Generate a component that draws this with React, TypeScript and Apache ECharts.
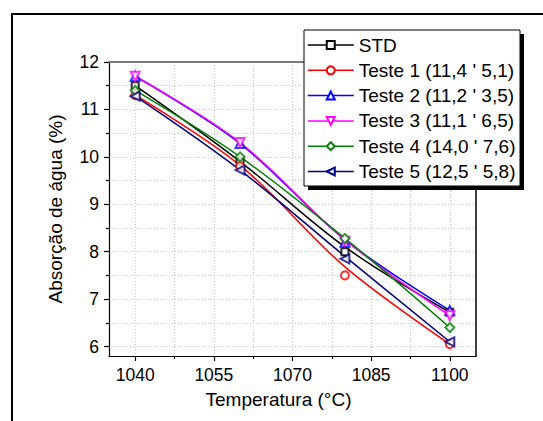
import React, { useEffect, useRef } from "react";
import * as echarts from "echarts";

const FONT = "'Liberation Sans', Arial, Helvetica, sans-serif";

const temps = [1040, 1060, 1080, 1100];
const xMajorTicks = [1040, 1055, 1070, 1085, 1100];
const xMinorTicks = [1047.5, 1062.5, 1077.5, 1092.5];
const yMajorTicks = [6, 7, 8, 9, 10, 11, 12];
const yMinorTicks = [6.5, 7.5, 8.5, 9.5, 10.5, 11.5];

const seriesNames = [
  "STD",
  "Teste 1 (11,4 ' 5,1)",
  "Teste 2 (11,2 ' 3,5)",
  "Teste 3 (11,1 ' 6,5)",
  "Teste 4 (14,0 ' 7,6)",
  "Teste 5 (12,5 ' 5,8)",
];

// measured points (markers)
const stdPoints = [11.5, 9.9, 8.0, 6.72];
const t1Points = [11.3, 9.8, 7.5, 6.05];
const t2Points = [11.7, 10.28, 8.2, 6.76];
const t3Points = [11.7, 10.3, 8.22, 6.65];
const t4Points = [11.4, 10.0, 8.28, 6.4];
const t5Points = [11.28, 9.72, 7.85, 6.1];

// fitted curves as drawn (read at the same temperatures)
const stdCurve = [11.5, 9.9, 8.1, 6.72];
const t1Curve = [11.3, 9.82, 7.68, 6.05];
const t2Curve = [11.7, 10.28, 8.25, 6.76];
const t3Curve = [11.7, 10.3, 8.25, 6.65];
const t4Curve = [11.4, 10.0, 8.28, 6.4];
const t5Curve = [11.28, 9.72, 7.9, 6.1];

const pointsList = [stdPoints, t1Points, t2Points, t3Points, t4Points, t5Points];
const curveList = [stdCurve, t1Curve, t2Curve, t3Curve, t4Curve, t5Curve];

const colors = ["#000000", "#ff0000", "#0000ff", "#ff00ff", "#008000", "#000080"];
const symbols = ["emptyRect", "emptyCircle", "emptyTriangle", "emptyTriangle", "emptyDiamond", "emptyTriangle"];
const rotations = [0, 0, 0, 180, 0, 90];
const sizes = [7, 8, 9, 9, 9, 9];

export default function App() {
  const ref = useRef<HTMLDivElement>(null);

  useEffect(() => {
    if (!ref.current) return;
    const chart = echarts.init(ref.current, undefined, { renderer: "svg" });

    const grid = { left: 109, top: 62, right: 67, bottom: 65 };
    const gridLine = { show: true, lineStyle: { color: "#c8c8c8", width: 1, type: [1, 2] as any } };

    const lineSeries = seriesNames.map((name, i) => ({
      name,
      type: "line",
      xAxisIndex: 0,
      yAxisIndex: 0,
      data: temps.map((t, k) => [t, curveList[i][k]]),
      smooth: 0.35,
      symbol: symbols[i],
      symbolRotate: rotations[i],
      showSymbol: false,
      lineStyle: { color: colors[i], width: 1.5 },
      itemStyle: { color: colors[i], borderWidth: 1 },
      z: 3,
      silent: true,
    }));

    const pointSeries = seriesNames.map((name, i) => ({
      name: name + " pontos",
      type: "scatter",
      xAxisIndex: 0,
      yAxisIndex: 0,
      data: temps.map((t, k) => [t, pointsList[i][k]]),
      symbol: symbols[i],
      symbolRotate: rotations[i],
      symbolSize: sizes[i],
      itemStyle: { color: colors[i], borderColor: colors[i], borderWidth: 1 },
      z: 4,
      silent: true,
    }));

    const baseX = { type: "value", min: 1035, max: 1105, gridIndex: 0 };
    const baseY = { type: "value", min: 5.8, max: 12, gridIndex: 0 };

    chart.setOption({
      animation: false,
      backgroundColor: "#ffffff",
      grid,
      xAxis: [
        {
          ...baseX,
          position: "bottom",
          name: "Temperatura (°C)",
          nameLocation: "middle",
          nameGap: 34,
          nameTextStyle: { fontFamily: FONT, fontSize: 19, color: "#000", padding: [0, 28, 0, 0] },
          axisLine: { show: true, onZero: false, lineStyle: { color: "#000", width: 1.2 } },
          axisTick: { show: true, customValues: xMajorTicks, length: 5, lineStyle: { color: "#000", width: 1.2 } },
          axisLabel: {
            customValues: xMajorTicks,
            formatter: (v: number) => String(v),
            margin: 10,
            fontFamily: FONT,
            fontSize: 17.5,
            color: "#000",
          },
          splitLine: gridLine,
        },
        {
          ...baseX,
          position: "bottom",
          axisLine: { show: false },
          axisTick: { show: true, customValues: xMinorTicks, length: 3, lineStyle: { color: "#000", width: 1.2 } },
          axisLabel: { show: false },
          splitLine: gridLine,
        },
        {
          ...baseX,
          position: "top",
          axisLine: { show: true, onZero: false, lineStyle: { color: "#7a7a7a", width: 2 } },
          axisTick: { show: false },
          axisLabel: { show: false },
          splitLine: { show: false },
        },
      ],
      yAxis: [
        {
          ...baseY,
          position: "left",
          name: "Absorção de água (%)",
          nameLocation: "middle",
          nameGap: 44,
          nameTextStyle: { fontFamily: FONT, fontSize: 19, color: "#000" },
          axisLine: { show: true, onZero: false, lineStyle: { color: "#000", width: 1.2 } },
          axisTick: { show: true, customValues: yMajorTicks, length: 5, lineStyle: { color: "#000", width: 1.2 } },
          axisLabel: {
            customValues: yMajorTicks,
            formatter: (v: number) => String(v),
            margin: 10,
            fontFamily: FONT,
            fontSize: 17.5,
            color: "#000",
          },
          splitLine: gridLine,
        },
        {
          ...baseY,
          position: "left",
          axisLine: { show: false },
          axisTick: { show: true, customValues: yMinorTicks, length: 3, lineStyle: { color: "#000", width: 1.2 } },
          axisLabel: { show: false },
          splitLine: gridLine,
        },
        {
          ...baseY,
          position: "right",
          axisLine: { show: true, onZero: false, lineStyle: { color: "#000", width: 1.5 } },
          axisTick: { show: false },
          axisLabel: { show: false },
          splitLine: { show: false },
        },
      ],
      legend: {
        data: seriesNames,
        orient: "vertical",
        left: 307,
        top: 35.5,
        padding: 0,
        itemWidth: 46,
        itemHeight: 10,
        itemGap: 6.3,
        selectedMode: false,
        z: 60,
        textStyle: { fontFamily: FONT, fontSize: 19, color: "#000" },
        lineStyle: { width: 1.5, opacity: 1 },
        itemStyle: { borderWidth: 1 },
      },
      graphic: {
        elements: [
          {
            type: "rect",
            silent: true,
            z: 0,
            shape: { x: 12, y: 14, width: 700, height: 600 },
            style: { fill: "none", stroke: "#000", lineWidth: 2 },
          },
          {
            type: "rect",
            silent: true,
            z: 50,
            shape: { x: 308, y: 34, width: 216, height: 156 },
            style: { fill: "#000" },
          },
          {
            type: "rect",
            silent: true,
            z: 51,
            shape: { x: 304, y: 30, width: 216, height: 156 },
            style: { fill: "#fff", stroke: "#000", lineWidth: 1 },
          },
        ],
      },
      series: [...lineSeries, ...pointSeries],
    });

    return () => chart.dispose();
  }, []);

  return (
    <div
      ref={ref}
      style={{ position: "absolute", left: 0, top: 0, width: 543, height: 421, background: "#fff" }}
    />
  );
}
